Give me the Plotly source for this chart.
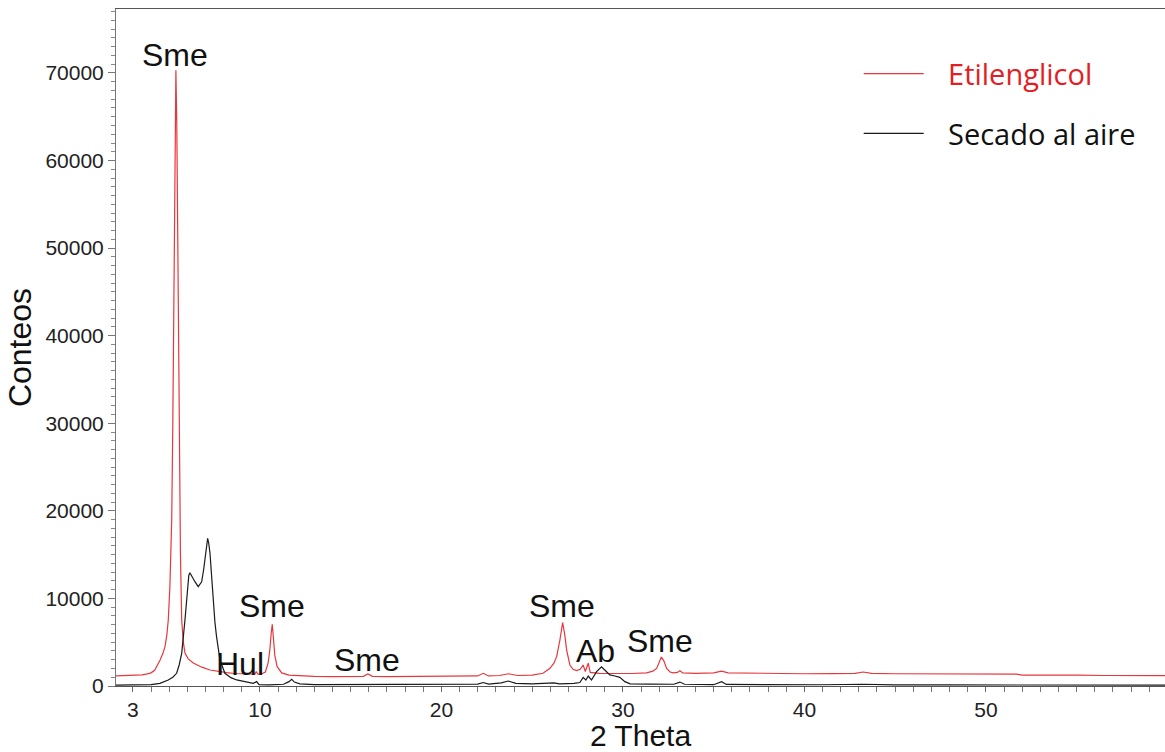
import plotly.graph_objects as go

# ---- Data (2 Theta vs counts) ----
eg_theta = [2.07, 2.5, 3.0, 3.5, 3.8, 4.0, 4.2, 4.31, 4.5, 4.65, 4.77, 4.87, 4.95, 5.04, 5.10, 5.14,
            5.20, 5.27, 5.33, 5.37, 5.42, 5.47, 5.52, 5.57, 5.62, 5.69, 5.78, 5.87, 6.05, 6.33, 6.8,
            7.25, 7.7, 8.17, 8.6, 9.06, 9.5, 9.72, 9.8, 9.88, 10.05, 10.3, 10.45, 10.55, 10.62, 10.68,
            10.74, 10.82, 10.95, 11.2, 11.6, 12.2, 13.0, 14.0, 15.0, 15.7, 15.95, 16.2, 17.0, 18.0,
            19.0, 20.0, 21.0, 22.0, 22.3, 22.6, 23.2, 23.7, 24.2, 25.0, 25.6, 25.98, 26.2, 26.35,
            26.53, 26.68, 26.8, 26.9, 27.08, 27.25, 27.45, 27.65, 27.81, 27.93, 28.09, 28.2, 28.7,
            29.5, 30.5, 31.3, 31.65, 31.86, 32.0, 32.12, 32.25, 32.41, 32.6, 32.77, 33.0, 33.14,
            33.3, 34.0, 35.0, 35.44, 35.8, 37.0, 38.5, 40.0, 41.5, 42.8, 43.24, 43.7, 45.0, 47.0,
            49.0, 50.5, 51.7, 52.0, 53.5, 55.0, 56.5, 58.0, 59.87]
eg_counts = [1150, 1180, 1230, 1280, 1380, 1500, 1800, 2200, 2970, 3700, 4490, 5800, 7540, 11340, 15000, 19000,
             30000, 48000, 64000, 70300, 64000, 50000, 35000, 23000, 15200, 7540, 5000, 3770, 3100, 2630, 2150,
             1830, 1650, 1520, 1430, 1370, 1320, 1350, 1650, 1350, 1350, 1600, 2600, 4200, 6000, 7050,
             5600, 3500, 2200, 1500, 1250, 1150, 1100, 1080, 1080, 1100, 1380, 1100, 1060, 1070,
             1090, 1100, 1120, 1150, 1450, 1150, 1200, 1400, 1200, 1250, 1450, 2020, 2600, 3350,
             5250, 7250, 5800, 4100, 2400, 1900, 1750, 1900, 2400, 1650, 2600, 1550, 1450,
             1420, 1430, 1500, 1700, 2000, 2700, 3300, 2900, 2000, 1600, 1500, 1550, 1750,
             1500, 1450, 1500, 1700, 1500, 1450, 1400, 1400, 1420, 1450, 1600, 1450, 1400, 1400,
             1380, 1370, 1350, 1250, 1270, 1250, 1200, 1200, 1180]

air_theta = [2.07, 3.0, 4.0, 4.49, 4.75, 4.95, 5.2, 5.41, 5.55, 5.69, 5.87, 6.0, 6.08, 6.14, 6.25, 6.42,
             6.6, 6.79, 6.9, 6.97, 7.05, 7.12, 7.18, 7.25, 7.34, 7.43, 7.52, 7.61, 7.7, 7.8, 8.07,
             8.4, 8.72, 9.2, 9.63, 9.82, 9.95, 10.5, 11.3, 11.6, 11.75, 11.9, 12.2, 13.0, 15.0, 16.0,
             18.0, 20.0, 22.0, 22.3, 22.6, 23.3, 23.68, 24.1, 25.0, 26.2, 26.5, 27.3, 27.63, 27.81,
             27.96, 28.09, 28.27, 28.55, 28.82, 29.0, 29.28, 29.56, 29.83, 30.11, 30.4, 31.5, 32.8,
             33.14, 33.4, 35.0, 35.44, 35.7, 38.0, 41.0, 43.2, 45.0, 48.0, 51.0, 54.0, 57.0, 59.87]
air_counts = [100, 110, 150, 300, 480, 690, 1000, 1450, 2400, 3730, 7540, 11340, 12600, 12940, 12500, 11910,
              11340, 11900, 13300, 14390, 16000, 16860, 16300, 15150, 12500, 9440, 7300, 5630, 4200, 2970, 1450,
              950, 690, 450, 300, 500, 150, 120, 200, 500, 760, 450, 250, 150, 150, 180,
              160, 200, 220, 400, 220, 350, 570, 300, 250, 350, 250, 300, 400, 990,
              690, 1140, 690, 1640, 2200, 1830, 1260, 1140, 990, 500, 250, 220, 200,
              450, 200, 150, 500, 180, 140, 140, 200, 130, 120, 130, 110, 100, 100]

GAP = "\u2002\u2009"
series_names = [GAP + "<span style='color:#e31e24'>Etilenglicol</span>", GAP + "Secado al aire"]
series_colors = ["#e8373c", "#1a1a1a"]

peak_labels = ["Sme", "Sme", "Hul", "Sme", "Sme", "Ab", "Sme"]
peak_theta = [5.32, 10.66, 8.9, 15.9, 26.64, 28.5, 32.04]
peak_counts = [72000, 9100, 2500, 2950, 9100, 3950, 5150]

x_tickvals = [3, 10, 20, 30, 40, 50]

fig = go.Figure()
fig.add_trace(go.Scatter(x=eg_theta, y=eg_counts, mode="lines", name=series_names[0],
                         line=dict(color=series_colors[0], width=1.2), legendgroup="a"))
fig.add_trace(go.Scatter(x=air_theta, y=air_counts, mode="lines", name=series_names[1],
                         line=dict(color=series_colors[1], width=1.2), legendgroup="b"))

for lab, tx, ty in zip(peak_labels, peak_theta, peak_counts):
    fig.add_annotation(x=tx, y=ty, text=lab, showarrow=False, xanchor="center", yanchor="middle",
                       font=dict(family="Liberation Sans, Arial", size=32, color="#111"))

fig.update_layout(
    width=1165, height=752,
    margin=dict(l=116, r=0, t=9, b=66),
    plot_bgcolor="white", paper_bgcolor="white",
    showlegend=True,
    legend=dict(x=0.708, y=0.942, xanchor="left", yanchor="top", bgcolor="rgba(0,0,0,0)",
                font=dict(family="Open Sans", size=29, color="#111"), itemwidth=60,
                tracegroupgap=19, traceorder="grouped"),
    font=dict(family="Liberation Sans, Arial", color="#222"),
)

fig.update_xaxes(
    range=[2.07, 59.87], tickmode="array", tickvals=x_tickvals, ticktext=[str(v) for v in x_tickvals],
    ticks="outside", ticklen=5, tickcolor="#666", tickfont=dict(size=21, color="#222"),
    showline=True, linecolor="#555", linewidth=1, mirror=True, showgrid=False, zeroline=False,
    minor=dict(tickmode="linear", tick0=0, dtick=1, ticks="outside", ticklen=5, tickcolor="#777"),
    title=dict(text="2 Theta", font=dict(size=30, color="#111"), standoff=11),
)
fig.update_yaxes(
    range=[0, 77300], tickmode="linear", tick0=0, dtick=10000, tickformat="d",
    ticks="outside", ticklen=7, tickcolor="#777", tickfont=dict(size=21, color="#222"),
    showline=True, linecolor="#777", linewidth=1, showgrid=False, zeroline=False,
    minor=dict(tickmode="linear", tick0=0, dtick=1000, ticks="outside", ticklen=4, tickcolor="#888"),
    title=dict(text="Conteos", font=dict(size=32, color="#111"), standoff=4),
)

fig.write_html("out.html")
